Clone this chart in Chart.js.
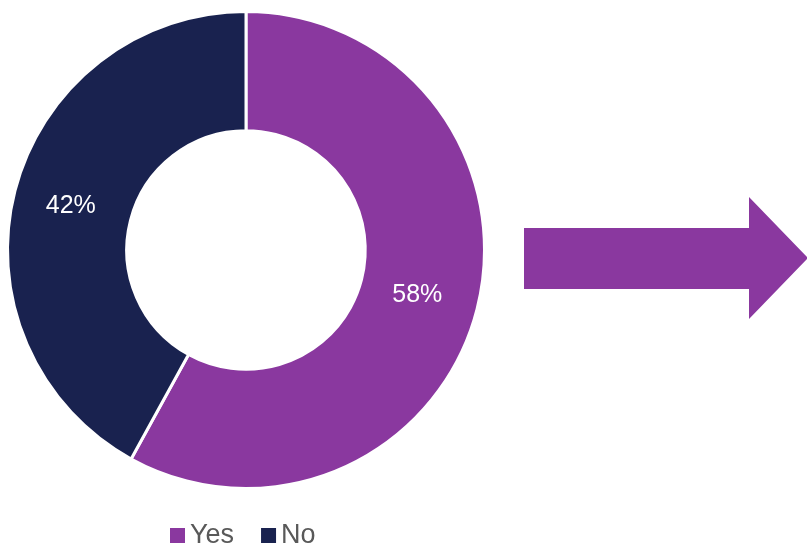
<!DOCTYPE html>
<html lang="en">
<head>
    <meta charset="UTF-8">
    <title>Yes / No</title>
    <script src="https://cdn.jsdelivr.net/npm/chart.js"></script>
    <style>
        html, body {
            margin: 0;
            padding: 0;
            background: #ffffff;
        }
        #wrap {
            position: relative;
            width: 807px;
            height: 544px;
        }
    </style>
</head>
<body>

<div id="wrap">
    <canvas id="pieChart" width="807" height="544"></canvas>
</div>

<script>
    const labels = ['Yes', 'No'];
    const shares = [58, 42];
    const colors = ['#8a389f', '#19224f'];

    const FONT = '"Liberation Sans", Arial, sans-serif';

    // percent text in the middle of each ring segment
    const sliceLabels = {
        id: 'sliceLabels',
        afterDatasetsDraw(chart) {
            const ctx = chart.ctx;
            const meta = chart.getDatasetMeta(0);
            ctx.save();
            ctx.font = '25px ' + FONT;
            ctx.fillStyle = '#ffffff';
            ctx.textAlign = 'center';
            ctx.textBaseline = 'middle';
            meta.data.forEach((arc, i) => {
                const p = arc.tooltipPosition();
                ctx.fillText(shares[i] + '%', p.x - 2, p.y + 1);
            });
            ctx.restore();
        }
    };

    // legend row under the ring and the big arrow on the right
    const extras = {
        id: 'extras',
        afterDraw(chart) {
            const ctx = chart.ctx;
            ctx.save();

            // arrow
            ctx.fillStyle = colors[0];
            ctx.beginPath();
            ctx.moveTo(524, 228);
            ctx.lineTo(749, 228);
            ctx.lineTo(749, 197);
            ctx.lineTo(808, 258);
            ctx.lineTo(749, 319);
            ctx.lineTo(749, 289);
            ctx.lineTo(524, 289);
            ctx.closePath();
            ctx.fill();

            // legend
            ctx.font = '27px ' + FONT;
            ctx.textBaseline = 'alphabetic';
            ctx.textAlign = 'left';
            let x = 170;
            labels.forEach((name, i) => {
                ctx.fillStyle = colors[i];
                ctx.fillRect(x, 528, 15, 15);
                ctx.fillStyle = '#595959';
                ctx.fillText(name, x + 20, 543);
                x += 20 + ctx.measureText(name).width + 27;
            });

            ctx.restore();
        }
    };

    new Chart(document.getElementById('pieChart'), {
        type: 'doughnut',
        data: {
            labels: labels,
            datasets: [{
                data: shares,
                backgroundColor: colors,
                borderColor: '#ffffff',
                borderWidth: 3,
                hoverOffset: 0
            }]
        },
        options: {
            responsive: false,
            animation: false,
            cutout: '50%',
            layout: {
                padding: { left: 6, top: 10, right: 321, bottom: 54 }
            },
            plugins: {
                legend: { display: false },
                tooltip: { enabled: false }
            }
        },
        plugins: [sliceLabels, extras]
    });
</script>

</body>
</html>
